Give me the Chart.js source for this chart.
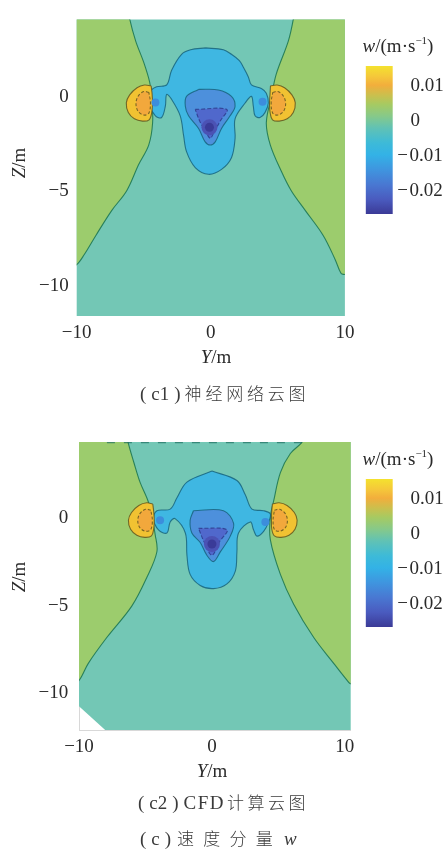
<!DOCTYPE html>
<html>
<head>
<meta charset="utf-8">
<script src="https://cdn.jsdelivr.net/npm/chart.js@4.4.1/dist/chart.umd.min.js"></script>
<style>
  html, body { margin: 0; padding: 0; background: #fff; }
  body { position: relative; width: 447px; height: 857px; overflow: hidden;
         font-family: "Liberation Serif", "DejaVu Serif", serif; color: #2a2a2a; }
  canvas { position: absolute; }
  .lbl { position: absolute; white-space: nowrap; font-size: 19px; line-height: 1;
         transform: translate(-50%, -50%); }
  .rot { transform: translate(-50%, -50%) rotate(-90deg); }
  .cap { position: absolute; white-space: nowrap; font-size: 19px; line-height: 1;
         transform: translateY(-50%); color: #3a3a3a; }
  .cap .in { margin: 0 5px; }
  .cjk { font-family: "Noto Sans CJK SC", sans-serif; font-size: 17px; font-weight: 300; }
  sup { font-size: 11px; vertical-align: 8px; line-height: 0; }
</style>
</head>
<body>
<canvas id="nn" width="360" height="372" style="left:0;top:0;width:360px;height:372px"></canvas>
<canvas id="nnBar" width="92" height="180" style="left:355px;top:50px;width:92px;height:180px"></canvas>
<canvas id="cfd" width="360" height="372" style="left:0;top:420px;width:360px;height:372px"></canvas>
<canvas id="cfdBar" width="92" height="180" style="left:355px;top:463px;width:92px;height:180px"></canvas>

<div class="lbl rot" style="left:18px;top:163px"><i>Z</i>/m</div>
<div class="lbl" style="left:216px;top:356px"><i>Y</i>/m</div>
<div class="lbl" style="left:398px;top:45px"><i>w</i>/(m·s<sup>−1</sup>)</div>
<div class="cap" style="left:140px;top:393px">(<span class="in">c1</span>)<span class="cjk" style="letter-spacing:3.8px;margin-left:4px">神经网络云图</span></div>

<div class="lbl rot" style="left:18px;top:577px"><i>Z</i>/m</div>
<div class="lbl" style="left:212px;top:770px"><i>Y</i>/m</div>
<div class="lbl" style="left:398px;top:458px"><i>w</i>/(m·s<sup>−1</sup>)</div>
<div class="cap" style="left:138px;top:802px">(<span class="in">c2</span>)<span style="letter-spacing:1.5px;margin-left:5px">CFD</span><span class="cjk" style="letter-spacing:3.5px;margin-left:2px">计算云图</span></div>
<div class="cap" style="left:140px;top:838px">(<span class="in">c</span>)<span class="cjk" style="letter-spacing:9.2px;margin-left:6px">速度分量</span><i style="margin-left:2px">w</i></div>

<script>
// ---- axes ----
const yTicks = [-10, 0, 10];          // Y / m
const zTicks = [-10, -5, 0];          // Z / m
const wTicks = [-0.02, -0.01, 0, 0.01];
const wRange = [-0.0267, 0.0157];     // colour-bar limits, m/s
const nnYRange = [-10, 10];
const nnZRange = [-11.6, 4.12];
const cfdYRange = [-10, 10.44];
const cfdZRange = [-12.08, 4.33];

// ---- (c1) neural-network field: contour outlines as [Y, Z] ----
const nnFrame = [[-10.6, 4.6], [10.6, 4.6], [10.6, -12.2], [-10.6, -12.2]];
const nnGreenLeft = [[-6.1, 4.6], [-6.04, 4.12], [-5.6, 2.97], [-5.0, 1.84], [-4.56, 0.8], [-4.4, 0],
  [-4.34, -1.36], [-4.63, -2.54], [-5.38, -3.57], [-6.27, -4.96], [-7.38, -6.0], [-8.57, -7.33],
  [-9.46, -8.37], [-10, -8.88], [-10.6, -9.1], [-10.6, 4.6]];
const nnGreenRight = [[6.2, 4.6], [6.15, 4.12], [5.78, 2.97], [4.88, 1.22], [4.51, 0], [4.14, -1.36],
  [4.44, -2.54], [5.26, -3.93], [6.0, -4.96], [7.04, -6.0], [8.38, -7.33], [9.27, -8.6],
  [9.72, -9.35], [10, -9.4], [10.6, -9.5], [10.6, 4.6]];
const nnBlob = [[-0.39, 2.61], [0.94, 2.51], [1.54, 2.27], [2.13, 1.94], [2.43, 1.58], [2.8, 1.07],
  [3.03, 0.65], [3.77, 0.46], [4.14, 0.21], [4.29, -0.31], [4.04, -0.82], [3.67, -1.08],
  [3.3, -0.99], [3.17, -0.48], [3.03, 0.04], [2.56, -0.31], [1.81, -1.15], [1.81, -2.18],
  [1.54, -3.21], [0.8, -3.83], [-0.17, -4.09], [-1.16, -3.73], [-1.81, -2.89], [-2.03, -2.03],
  [-2.28, -0.99], [-2.92, -0.12], [-3.29, 0.14], [-3.39, -0.48], [-3.67, -1.08], [-4.13, -0.99],
  [-4.51, -0.48], [-4.51, 0.29], [-4.04, 0.55], [-3.29, 0.65], [-2.92, 1.43], [-2.18, 2.27],
  [-1.51, 2.51]];
const nnCore = [[-0.91, 0.41], [0.57, 0.38], [1.54, 0.04], [1.81, -0.48], [1.44, -0.99], [0.8, -1.66],
  [0.33, -2.37], [-0.04, -2.54], [-0.42, -2.37], [-0.91, -1.66], [-1.66, -0.99], [-1.9, -0.48],
  [-1.81, 0.04]];
const nnWedge = [[-1.16, -0.65], [1.19, -0.65], [0.72, -1.25], [0.2, -1.92], [-0.04, -2.18],
  [-0.32, -1.92], [-0.84, -1.25]];
const nnLobeLeft = [[-4.45, 0.6], [-4.95, 0.64], [-5.5, 0.5], [-6.05, 0.12], [-6.3, -0.3], [-6.15, -0.82],
  [-5.7, -1.15], [-5.1, -1.27], [-4.6, -1.2], [-4.4, -0.8], [-4.35, -0.3], [-4.38, 0.2]];
const nnLobeRight = [[4.45, 0.6], [4.95, 0.64], [5.5, 0.5], [6.05, 0.12], [6.3, -0.3], [6.15, -0.82],
  [5.7, -1.15], [5.1, -1.27], [4.6, -1.2], [4.42, -0.8], [4.38, -0.3], [4.42, 0.2]];
const nnLobeLeftCore = [[-4.62, 0.25], [-5.0, 0.3], [-5.42, 0.05], [-5.58, -0.35], [-5.42, -0.75],
  [-5.0, -0.95], [-4.62, -0.85], [-4.5, -0.3]];
const nnLobeRightCore = [[4.62, 0.25], [5.0, 0.3], [5.42, 0.05], [5.58, -0.35], [5.42, -0.75],
  [5.0, -0.95], [4.62, -0.85], [4.5, -0.3]];
const nnMinimum = [[-0.1, -1.6]];
const nnSideMinima = [[-4.13, -0.28], [3.86, -0.24]];

// ---- (c2) CFD field: contour outlines as [Y, Z] ----
const cfdFrame = [[-10.6, 4.7], [10.9, 4.7], [10.9, -12.5], [-7.42, -12.5], [-10.6, -10.31]];
const cfdGreenLeft = [[-6.35, 4.7], [-6.31, 4.33], [-5.86, 3.14], [-5.41, 2.05], [-4.8, 0.96],
  [-4.52, 0.04], [-4.27, -0.94], [-4.14, -1.92], [-4.9, -3.39], [-6.03, -5.02], [-7.91, -6.81],
  [-9.3, -8.28], [-10, -9.26], [-10.6, -9.5], [-10.6, 4.7]];
const cfdGreenRight = [[6.85, 4.7], [6.78, 4.33], [5.9, 3.68], [5.15, 2.59], [4.64, 0.96], [4.39, 0.05],
  [4.39, -1.21], [5.15, -3.21], [6.15, -4.91], [7.66, -6.81], [9.16, -8.28], [10.29, -9.36],
  [10.44, -9.45], [11, -9.6], [11, 4.7]];
const cfdBlob = [[0, 2.68], [1.88, 2.14], [2.51, 1.33], [3.01, 0.51], [3.89, 0.42], [4.39, 0.24],
  [4.27, -0.22], [3.89, -0.76], [3.39, -1.03], [3.13, -0.67], [2.89, -0.22], [2.0, -0.85],
  [1.88, -1.93], [1.76, -3.02], [1.13, -3.75], [0.12, -4.02], [-0.88, -3.84], [-1.64, -3.21],
  [-1.88, -2.12], [-2.0, -0.85], [-2.77, -0.03], [-3.14, -0.22], [-3.39, -0.85], [-4.02, -0.67],
  [-4.4, -0.03], [-4.14, 0.42], [-3.14, 0.51], [-2.64, 1.14], [-1.88, 2.05]];
const cfdCore = [[-1.39, 0.42], [0.87, 0.42], [1.63, -0.3], [1.38, -1.03], [0.63, -1.93], [0.12, -2.48],
  [-0.38, -2.12], [-0.88, -1.39], [-1.51, -0.85], [-1.64, -0.13]];
const cfdWedge = [[-1.01, -0.58], [1.13, -0.67], [0.55, -1.37], [0.0, -2.12], [-0.58, -1.37]];
const cfdLobeLeft = [[-4.45, 0.8], [-4.9, 0.87], [-5.5, 0.72], [-6.05, 0.32], [-6.28, -0.12],
  [-6.12, -0.64], [-5.65, -0.98], [-5.05, -1.1], [-4.55, -1.02], [-4.38, -0.62], [-4.34, -0.12],
  [-4.38, 0.38]];
const cfdLobeRight = [[4.55, 0.8], [5.05, 0.87], [5.65, 0.72], [6.2, 0.32], [6.41, -0.12], [6.25, -0.64],
  [5.8, -0.98], [5.2, -1.1], [4.7, -1.02], [4.5, -0.62], [4.48, -0.12], [4.5, 0.38]];
const cfdLobeLeftCore = [[-4.6, 0.45], [-5.0, 0.5], [-5.42, 0.25], [-5.58, -0.15], [-5.42, -0.55],
  [-5.0, -0.75], [-4.6, -0.65], [-4.48, -0.12]];
const cfdLobeRightCore = [[4.7, 0.45], [5.1, 0.5], [5.52, 0.25], [5.68, -0.15], [5.52, -0.55],
  [5.1, -0.75], [4.7, -0.65], [4.6, -0.12]];
const cfdTopEdge = [[-7.9, 4.3], [6.8, 4.3]];
const cfdMinimum = [[0, -1.48]];
const cfdSideMinima = [[-3.9, -0.12], [4.02, -0.22]];

// ---- colour map of the w bar, bottom (0) to top (1) ----
const mapStops = [[0, '#3b3a96'], [0.1, '#4a5bbf'], [0.2, '#4978d2'], [0.3, '#3f95df'], [0.4, '#33b2e6'],
  [0.48, '#3dbad8'], [0.58, '#60c2b5'], [0.66, '#86c98a'], [0.74, '#a6ca62'], [0.8, '#c9c04e'],
  [0.87, '#f2ae3c'], [0.93, '#f5c83a'], [1, '#f4e22e']];

const C = {
  teal: '#73c7b5', green: '#9ccc6d', sky: '#3fb7e2', mid: '#4d90dc', deep: '#5068cc',
  lobe: '#f1c232', lobeCore: '#f2a83c', edgeGreen: 'rgba(25,115,80,0.85)',
  edgeBlue: 'rgba(20,95,120,0.8)', edgeDeep: 'rgba(40,50,130,0.75)', edgeLobe: 'rgba(90,80,30,0.8)'
};

const SERIF = "'Liberation Serif', 'DejaVu Serif', serif";
const minusFmt = v => (v < 0 ? '\u2212' + Math.abs(v) : String(v));

function region(points, fillColor, edge, extra) {
  const closed = points.concat([points[0]]);
  return Object.assign({
    data: closed.map(([y, z]) => ({ x: y, y: z })),
    showLine: true,
    fill: fillColor ? 'shape' : false,
    backgroundColor: fillColor || 'rgba(0,0,0,0)',
    borderColor: edge || 'rgba(0,0,0,0)',
    borderWidth: edge ? 1.1 : 0,
    pointRadius: 0,
    tension: 0.35
  }, extra || {});
}
function spots(points, color, radius) {
  return {
    data: points.map(([y, z]) => ({ x: y, y: z })),
    showLine: false, pointRadius: radius, pointBackgroundColor: color,
    pointBorderWidth: 0, pointBorderColor: 'rgba(0,0,0,0)'
  };
}
function path(points, color, extra) {
  return Object.assign({
    data: points.map(([y, z]) => ({ x: y, y: z })),
    showLine: true, fill: false, borderColor: color, borderWidth: 1.2, pointRadius: 0, tension: 0
  }, extra || {});
}

function fieldChart(id, layers, yRange, zRange, geom) {
  layers.forEach((d, i) => { d.order = layers.length - i; });
  return new Chart(document.getElementById(id), {
    type: 'scatter',
    data: { datasets: layers },
    options: {
      responsive: false, animation: false, events: [],
      layout: { padding: geom.pad },
      plugins: { legend: { display: false }, tooltip: { enabled: false } },
      scales: {
        x: {
          type: 'linear', min: yRange[0], max: yRange[1],
          afterBuildTicks: s => { s.ticks = yTicks.map(v => ({ value: v })); },
          afterFit: s => { s.height = geom.xh; },
          grid: { display: false, drawTicks: false },
          border: { display: geom.frame, color: '#d8d8d8' },
          ticks: { padding: geom.xpad, color: '#2a2a2a', maxRotation: 0, autoSkip: false,
                   font: { family: SERIF, size: 19 }, callback: minusFmt }
        },
        y: {
          type: 'linear', min: zRange[0], max: zRange[1],
          afterBuildTicks: s => { s.ticks = zTicks.map(v => ({ value: v })); },
          afterFit: s => { s.width = geom.yw; },
          grid: { display: false, drawTicks: false },
          border: { display: geom.frame, color: '#d8d8d8' },
          ticks: { padding: geom.ypad, color: '#2a2a2a', autoSkip: false,
                   font: { family: SERIF, size: 19 }, callback: minusFmt }
        }
      }
    }
  });
}

function barChart(id, pad) {
  return new Chart(document.getElementById(id), {
    type: 'bar',
    data: {
      labels: ['w'],
      datasets: [{
        data: [wRange],
        barPercentage: 1, categoryPercentage: 1, borderWidth: 0,
        backgroundColor: c => {
          const a = c.chart.chartArea;
          if (!a) return 'rgba(0,0,0,0)';
          const g = c.chart.ctx.createLinearGradient(0, a.bottom, 0, a.top);
          mapStops.forEach(([p, col]) => g.addColorStop(p, col));
          return g;
        }
      }]
    },
    options: {
      responsive: false, animation: false, events: [],
      layout: { padding: pad },
      plugins: { legend: { display: false }, tooltip: { enabled: false } },
      scales: {
        x: { display: false },
        y: {
          position: 'right', min: wRange[0], max: wRange[1],
          afterBuildTicks: s => { s.ticks = wTicks.map(v => ({ value: v })); },
          afterFit: s => { s.width = 54.3; },
          grid: { display: false, drawTicks: false },
          border: { display: false },
          ticks: { padding: 4.5, color: '#2a2a2a', autoSkip: false,
                   font: { family: SERIF, size: 19 },
                   callback: v => (v < 0 ? '\u2212\u200A' + Math.abs(v) : '\u2007\u2009' + v) }
        }
      }
    }
  });
}

fieldChart('nn', [
  region(nnFrame, C.teal, null, { tension: 0 }),
  region(nnGreenLeft, C.green, C.edgeGreen),
  region(nnGreenRight, C.green, C.edgeGreen),
  region(nnBlob, C.sky, C.edgeBlue),
  region(nnCore, C.mid, C.edgeBlue),
  region(nnWedge, C.deep, C.edgeDeep, { borderDash: [4, 2] }),
  region(nnLobeLeft, C.lobe, C.edgeLobe),
  region(nnLobeRight, C.lobe, C.edgeLobe),
  region(nnLobeLeftCore, C.lobeCore, C.edgeLobe, { borderDash: [3, 2] }),
  region(nnLobeRightCore, C.lobeCore, C.edgeLobe, { borderDash: [3, 2] }),
  spots(nnMinimum, '#4b52b4', 8),
  spots(nnMinimum, '#3a3b98', 4.5),
  spots(nnSideMinima, '#3c8ddc', 4)
], nnYRange, nnZRange, { pad: { left: 0, top: 10.7, right: 13.3, bottom: 26 }, xh: 30, yw: 76.7, xpad: 5.6, ypad: 8, frame: false });

fieldChart('cfd', [
  region(cfdFrame, C.teal, null, { tension: 0 }),
  region(cfdGreenLeft, C.green, C.edgeGreen),
  region(cfdGreenRight, C.green, C.edgeGreen),
  region(cfdBlob, C.sky, C.edgeBlue),
  region(cfdCore, C.mid, C.edgeBlue),
  region(cfdWedge, C.deep, C.edgeDeep, { borderDash: [4, 2] }),
  region(cfdLobeLeft, C.lobe, C.edgeLobe),
  region(cfdLobeRight, C.lobe, C.edgeLobe),
  region(cfdLobeLeftCore, C.lobeCore, C.edgeLobe, { borderDash: [3, 2] }),
  region(cfdLobeRightCore, C.lobeCore, C.edgeLobe, { borderDash: [3, 2] }),
  path(cfdTopEdge, 'rgba(30,110,95,0.7)', { borderDash: [8, 9] }),
  spots(cfdMinimum, '#4b52b4', 8),
  spots(cfdMinimum, '#3a3b98', 4.5),
  spots(cfdSideMinima, '#3c8ddc', 4)
], cfdYRange, cfdZRange, { pad: { left: 0, top: 8, right: 9.3, bottom: 32 }, xh: 30, yw: 79, xpad: 5.3, ypad: 10.7, frame: true });

barChart('nnBar', { left: 10.7, top: 9.5, right: 0, bottom: 13.3 });
barChart('cfdBar', { left: 10.7, top: 9.7, right: 0, bottom: 13 });
</script>
</body>
</html>
